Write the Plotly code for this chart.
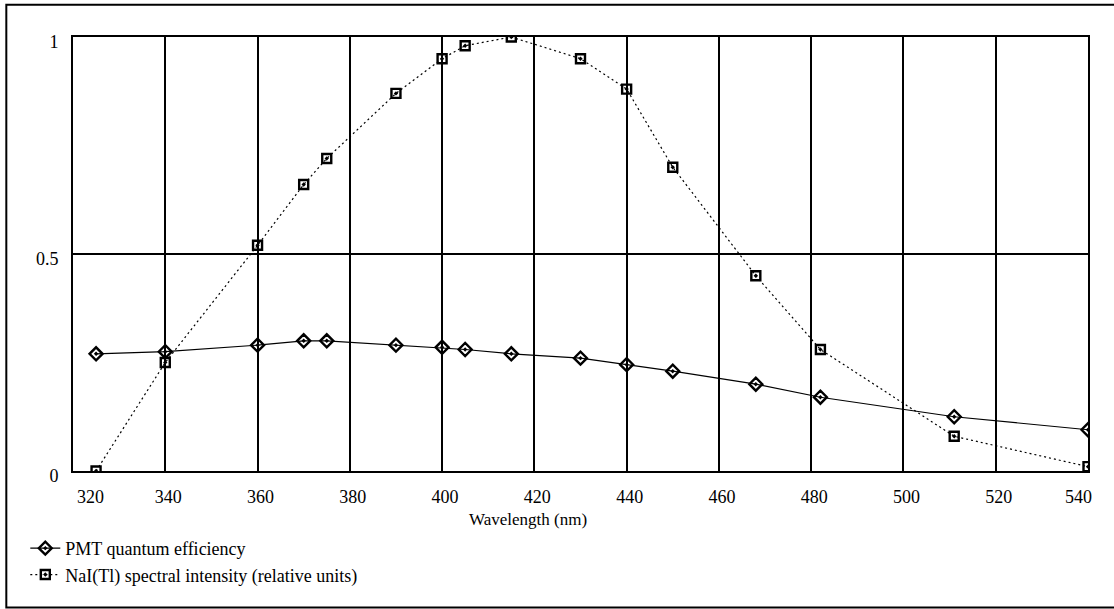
import plotly.graph_objects as go

# Wavelength samples (nm)
wavelength = [325, 340, 360, 370, 375, 390, 400, 405, 415, 430, 440, 450, 468, 482, 511, 540]

# PMT quantum efficiency
pmt_qe = [0.27, 0.275, 0.29, 0.30, 0.30, 0.29, 0.285, 0.28, 0.27, 0.26, 0.245, 0.23, 0.20, 0.17, 0.125, 0.095]

# NaI(Tl) emission spectrum, relative units
nai_intensity = [0.0, 0.25, 0.52, 0.66, 0.72, 0.87, 0.95, 0.98, 1.0, 0.95, 0.88, 0.70, 0.45, 0.28, 0.08, 0.01]

x_ticks = [320, 340, 360, 380, 400, 420, 440, 460, 480, 500, 520, 540]
y_ticks = [0, 0.5, 1]
y_tick_text = ["0", "0.5", "1"]

FONT = "Liberation Serif, Times New Roman, serif"

fig = go.Figure()

fig.add_trace(go.Scatter(
    x=wavelength, y=pmt_qe,
    mode="lines+markers",
    name="PMT quantum efficiency",
    line=dict(color="black", width=1.2),
    marker=dict(symbol="diamond-open-dot", size=10, color="black", line=dict(width=2.4, color="black")),
    cliponaxis=True,
))

fig.add_trace(go.Scatter(
    x=wavelength, y=nai_intensity,
    mode="lines+markers",
    name="NaI(Tl) spectral intensity (relative units)",
    line=dict(color="black", width=1.2, dash="2px,3px"),
    marker=dict(symbol="square-open-dot", size=9, color="black", line=dict(width=2.4, color="black")),
    cliponaxis=True,
))

# x tick labels: end labels are drawn inward as annotations
x_tick_text = ["" if v in (320, 540) else str(v) for v in x_ticks]

fig.update_xaxes(
    range=[320, 540],
    tickvals=x_ticks,
    ticktext=x_tick_text,
    showgrid=True, gridcolor="black", gridwidth=2,
    showline=True, linecolor="black", linewidth=2, mirror=True,
    ticks="", zeroline=False,
    tickfont=dict(family=FONT, size=18, color="black"),
    ticklabelshift=3,
    ticklabelstandoff=8,
)
fig.update_yaxes(
    range=[0, 1],
    tickvals=y_ticks,
    ticktext=y_tick_text,
    showgrid=True, gridcolor="black", gridwidth=2,
    showline=True, linecolor="black", linewidth=2, mirror=True,
    ticks="", zeroline=False,
    tickfont=dict(family=FONT, size=18, color="black"),
    ticklabelshift=5,
    ticklabelstandoff=9,
)

for v, shift in ((320, 17), (540, -10)):
    fig.add_annotation(
        x=v, y=0, xref="x", yref="y",
        text=str(v), showarrow=False,
        xshift=shift, yshift=-26,
        font=dict(family=FONT, size=18, color="black"),
    )

fig.add_annotation(
    x=0.4486, y=-0.1114, xref="paper", yref="paper",
    yanchor="middle",
    text="Wavelength (nm)", showarrow=False,
    font=dict(family=FONT, size=17, color="black"),
)

# outer frame around the whole figure
fig.add_shape(
    type="rect", xref="paper", yref="paper",
    x0=-0.0657, x1=1.05, y0=-0.3145, y1=1.0745,
    line=dict(color="black", width=2),
)

fig.update_layout(
    width=1114, height=609,
    margin=dict(l=73, r=26, t=37, b=138),
    paper_bgcolor="white", plot_bgcolor="white",
    showlegend=True,
    legend=dict(
        x=-0.047, y=-0.1358, xanchor="left", yanchor="top",
        font=dict(family=FONT, size=18, color="black"),
        bgcolor="rgba(0,0,0,0)", tracegroupgap=0,
    ),
)

fig.write_html("out.html")
